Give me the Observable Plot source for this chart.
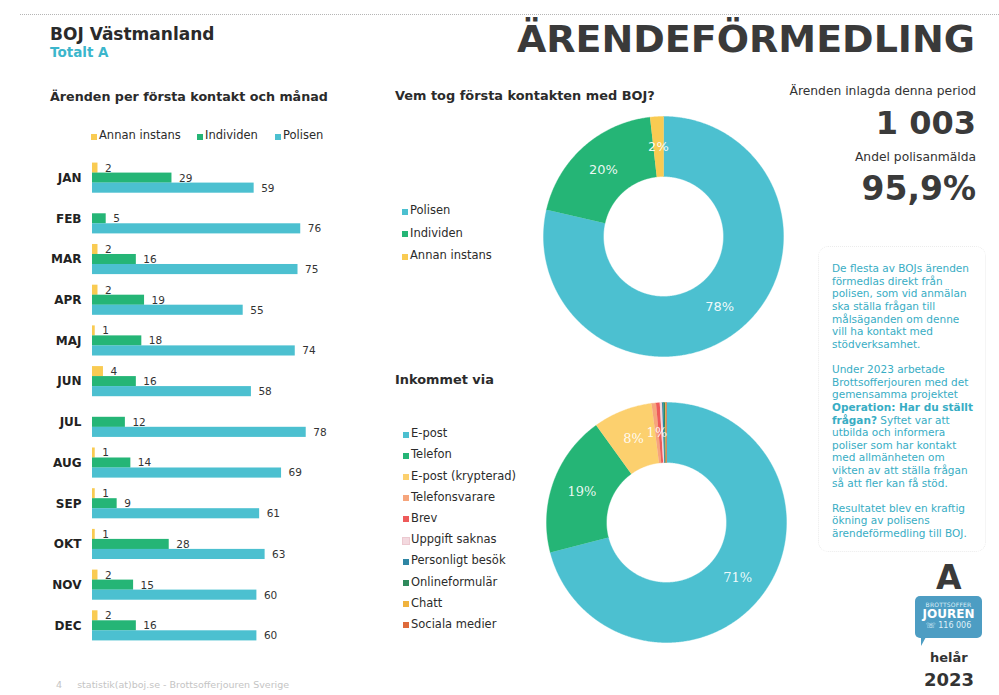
<!DOCTYPE html>
<html>
<head>
<meta charset="utf-8">
<script src="https://cdn.jsdelivr.net/npm/d3@7"></script>
<script src="https://cdn.jsdelivr.net/npm/@observablehq/plot@0.6"></script>
<style>
  html, body { margin: 0; padding: 0; background: #fff; }
  #page { position: relative; width: 999px; height: 695px; overflow: hidden; background: #fff; font-family: "DejaVu Sans", Verdana, sans-serif; color: #2b2b2b; }
  .abs { position: absolute; white-space: nowrap; line-height: 1; }
  .b { font-weight: bold; }
  .sw { position: absolute; width: 6px; height: 6px; }
  .leg { position: absolute; font-size: 11.5px; line-height: 1; color: #2b2b2b; white-space: nowrap; }
  #info { position: absolute; left: 832px; top: 262px; width: 150px; font-size: 10.5px; line-height: 12.65px; color: #38adc4; white-space: nowrap; }
  #info p { margin: 0 0 12.3px 0; }
  #infobox { position: absolute; left: 818px; top: 246px; width: 166px; height: 304px; border: 1px dotted #ececec; border-radius: 10px; }
  #logo { position: absolute; left: 915px; top: 596px; width: 67px; height: 42px; background: #4d9dc3; border-radius: 5px; color: #fff; text-align: center; }
  #logo:after { content: ""; position: absolute; left: 6px; bottom: -8px; border-left: 5px solid #4d9dc3; border-right: 5px solid transparent; border-top: 0; border-bottom: 9px solid transparent; }
  #logo .t1 { font-size: 6px; line-height: 6px; padding-top: 6px; letter-spacing: 0.2px; color: #dff0f8; }
  #logo .t2 { font-size: 12px; line-height: 13px; font-weight: bold; }
  #logo .t3 { font-size: 8px; line-height: 9px; color: #dff0f8; }
  svg { overflow: visible; display: block; }
</style>
</head>
<body>
<div id="page">
  <div class="abs" style="left:20px; top:14px; width:979px; border-top:1px dotted #b5b5b5;"></div>
  <div class="abs b" style="left:50px; top:25.6px; font-size:17px; color:#2a2a2a;">BOJ Västmanland</div>
  <div class="abs b" style="left:50px; top:45.6px; font-size:13.5px; color:#3bb6cc;">Totalt A</div>
  <div class="abs b" style="right:24px; top:19.5px; font-size:38px; color:#3a3a3a;">ÄRENDEFÖRMEDLING</div>

  <div class="abs b" style="left:50px; top:91px; font-size:12.7px;">Ärenden per första kontakt och månad</div>
  <div id="barlegend"></div>
  <div id="bars" class="abs" style="left:0; top:150px;"></div>

  <div class="abs b" style="left:395px; top:90px; font-size:12.9px;">Vem tog första kontakten med BOJ?</div>
  <div id="leg1"></div>
  <div id="donut1" class="abs" style="left:542px; top:115px;"></div>

  <div class="abs b" style="left:395px; top:374px; font-size:12.9px;">Inkommet via</div>
  <div id="leg2"></div>
  <div id="donut2" class="abs" style="left:545px; top:401px;"></div>

  <div class="abs" style="right:23px; top:85.4px; font-size:12.3px; color:#333;">Ärenden inlagda denna period</div>
  <div class="abs b" style="right:23px; top:107px; font-size:32px; color:#3a3a3a;" id="total"></div>
  <div class="abs" style="right:23px; top:151.4px; font-size:12.3px; color:#333;">Andel polisanmälda</div>
  <div class="abs b" style="right:23px; top:172px; font-size:33px; color:#3a3a3a;">95,9%</div>

  <div id="infobox"></div>
  <div id="info">
    <p>De flesta av BOJs ärenden<br>förmedlas direkt från<br>polisen, som vid anmälan<br>ska ställa frågan till<br>målsäganden om denne<br>vill ha kontakt med<br>stödverksamhet.</p>
    <p>Under 2023 arbetade<br>Brottsofferjouren med det<br>gemensamma projektet<br><b>Operation: Har du ställt<br>frågan?</b> Syftet var att<br>utbilda och informera<br>poliser som har kontakt<br>med allmänheten om<br>vikten av att ställa frågan<br>så att fler kan få stöd.</p>
    <p>Resultatet blev en kraftig<br>ökning av polisens<br>ärendeförmedling till BOJ.</p>
  </div>

  <div class="abs b" style="left:936px; top:561px; font-size:33px; color:#3a3a3a;">A</div>
  <div id="logo"><div class="t1">BROTTSOFFER</div><div class="t2">JOUREN</div><div class="t3">☏ 116 006</div></div>
  <div class="abs b" style="left:930px; top:651px; font-size:13px; color:#333;">helår</div>
  <div class="abs b" style="left:924px; top:671px; font-size:18px; color:#333;">2023</div>

  <div class="abs" style="left:56px; top:680px; font-size:9.5px; color:#c4c4c4;">4&nbsp;&nbsp;&nbsp;&nbsp;&nbsp;statistik(at)boj.se - Brottsofferjouren Sverige</div>
</div>
<script>
// ---------- data ----------
const months = ["JAN","FEB","MAR","APR","MAJ","JUN","JUL","AUG","SEP","OKT","NOV","DEC"];
const annan     = [2, 0, 2, 2, 1, 4, 0, 1, 1, 1, 2, 2];
const individen = [29, 5, 16, 19, 18, 16, 12, 14, 9, 28, 15, 16];
const polisen   = [59, 76, 75, 55, 74, 58, 78, 69, 61, 63, 60, 60];

const contactKeys   = ["Polisen", "Individen", "Annan instans"];
const contactColors = ["#4cc0d0", "#25b576", "#f9cb52"];
const contactLabels = ["78%", "20%", "2%"];

const channelKeys   = ["E-post","Telefon","E-post (krypterad)","Telefonsvarare","Brev","Uppgift saknas","Personligt besök","Onlineformulär","Chatt","Sociala medier"];
const channelValues = [712, 191, 80, 6, 5, 3, 2, 2, 1, 1];
const channelColors = ["#4cc0d0","#25b576","#fcd06e","#f6a57c","#ee5a5a","#f3d9df","#2f86a4","#2f8a5c","#f0b33e","#de6a3b"];
const channelLabels = ["71%","19%","8%","1%","","","","","",""];

const barSeries = ["Annan instans", "Individen", "Polisen"];
const barColors = ["#f9cb52", "#25b576", "#4cc0d0"];

// ---------- header numbers ----------
const total = d3.sum(annan) + d3.sum(individen) + d3.sum(polisen);
document.getElementById("total").textContent = d3.format(",")(total).replace(/,/g, " ");

// ---------- HTML legends ----------
function legend(el, items, colors, x, y0, step, horizontal) {
  const host = document.getElementById(el);
  items.forEach((k, i) => {
    const xx = horizontal ? x[i] : x;
    const yy = horizontal ? y0 : y0 + i * step;
    const sw = document.createElement("div");
    sw.className = "sw";
    sw.style.left = xx + "px"; sw.style.top = (yy - 6.5) + "px"; sw.style.background = colors[i];
    if (k === "Uppgift saknas") sw.style.outline = "1px solid #ecc9d0";
    host.appendChild(sw);
    const t = document.createElement("div");
    t.className = "leg";
    t.style.left = (xx + 8) + "px"; t.style.top = (yy - 0.846 * 11.5) + "px";
    t.textContent = k;
    host.appendChild(t);
  });
}
legend("barlegend", barSeries, barColors, [91, 197, 275], 140, 0, true);
legend("leg1", contactKeys, contactColors, 402, 215, 22.5, false);
legend("leg2", channelKeys, channelColors, 403, 438, 21.2, false);

// ---------- bar chart ----------
const rows = months.flatMap((m, i) => [
  {month: m, series: "Annan instans", value: annan[i]},
  {month: m, series: "Individen", value: individen[i]},
  {month: m, series: "Polisen", value: polisen[i]}
]);

const sub = 10; // sub-bar thickness inside each month band
const barMarks = [];
barSeries.forEach((s, k) => {
  const data = rows.filter(d => d.series === s);
  barMarks.push(Plot.barX(data, {x: "value", y: "month", fill: "series", insetTop: k * sub, insetBottom: (2 - k) * sub}));
  barMarks.push(Plot.text(data.filter(d => d.value > 0), {x: "value", y: "month", dy: (k - 1) * sub, text: d => String(d.value), dx: 7, textAnchor: "start", fill: "#333", fontSize: 10.5}));
});
barMarks.push(Plot.axisY({tickSize: 0, tickPadding: 11, fontWeight: "bold", fontSize: 12, label: null, fill: "#222"}));

const bars = Plot.plot({
  width: 370, height: 501,
  marginLeft: 92, marginRight: 4, marginTop: 2, marginBottom: 0,
  style: {fontFamily: "DejaVu Sans", fontSize: "10.5px", color: "#333", background: "transparent"},
  x: {domain: [0, 100], axis: null},
  y: {domain: months, padding: 0.26, round: false, label: null},
  color: {domain: barSeries, range: barColors},
  marks: barMarks
});
document.getElementById("bars").appendChild(bars);

// ---------- donuts ----------
function donut(keys, values, colors, labels, labelFont, labelSize) {
  const sum = d3.sum(values);
  const poly = [], labs = [];
  let a = 0;
  keys.forEach((k, i) => {
    const a0 = a, a1 = a + values[i] / sum * 2 * Math.PI; a = a1;
    const n = Math.max(2, Math.ceil((a1 - a0) / (Math.PI / 360)));
    for (let j = 0; j <= n; j++) { const t = a0 + (a1 - a0) * j / n; poly.push({key: k, x: Math.sin(t), y: Math.cos(t)}); }
    for (let j = n; j >= 0; j--) { const t = a0 + (a1 - a0) * j / n; poly.push({key: k, x: 0.5 * Math.sin(t), y: 0.5 * Math.cos(t)}); }
    const m = (a0 + a1) / 2;
    labs.push({key: k, label: labels[i], x: 0.75 * Math.sin(m), y: 0.75 * Math.cos(m)});
  });
  return Plot.plot({
    width: 242, height: 242, margin: 1,
    style: {background: "transparent"},
    x: {domain: [-1, 1], axis: null},
    y: {domain: [-1, 1], axis: null},
    color: {domain: keys, range: colors},
    marks: [
      Plot.line(poly, {x: "x", y: "y", z: "key", fill: "key", stroke: "key", strokeWidth: 0.4, curve: "linear"}),
      Plot.text(labs.filter(d => d.label), {x: "x", y: "y", text: "label", fill: "white", fillOpacity: 0.92, fontFamily: labelFont, fontSize: labelSize})
    ]
  });
}
const contactTotals = [d3.sum(polisen), d3.sum(individen), d3.sum(annan)];
document.getElementById("donut1").appendChild(donut(contactKeys, contactTotals, contactColors, contactLabels, "DejaVu Sans", 13));
document.getElementById("donut2").appendChild(donut(channelKeys, channelValues, channelColors, channelLabels, "DejaVu Serif", 13));
</script>
</body>
</html>
